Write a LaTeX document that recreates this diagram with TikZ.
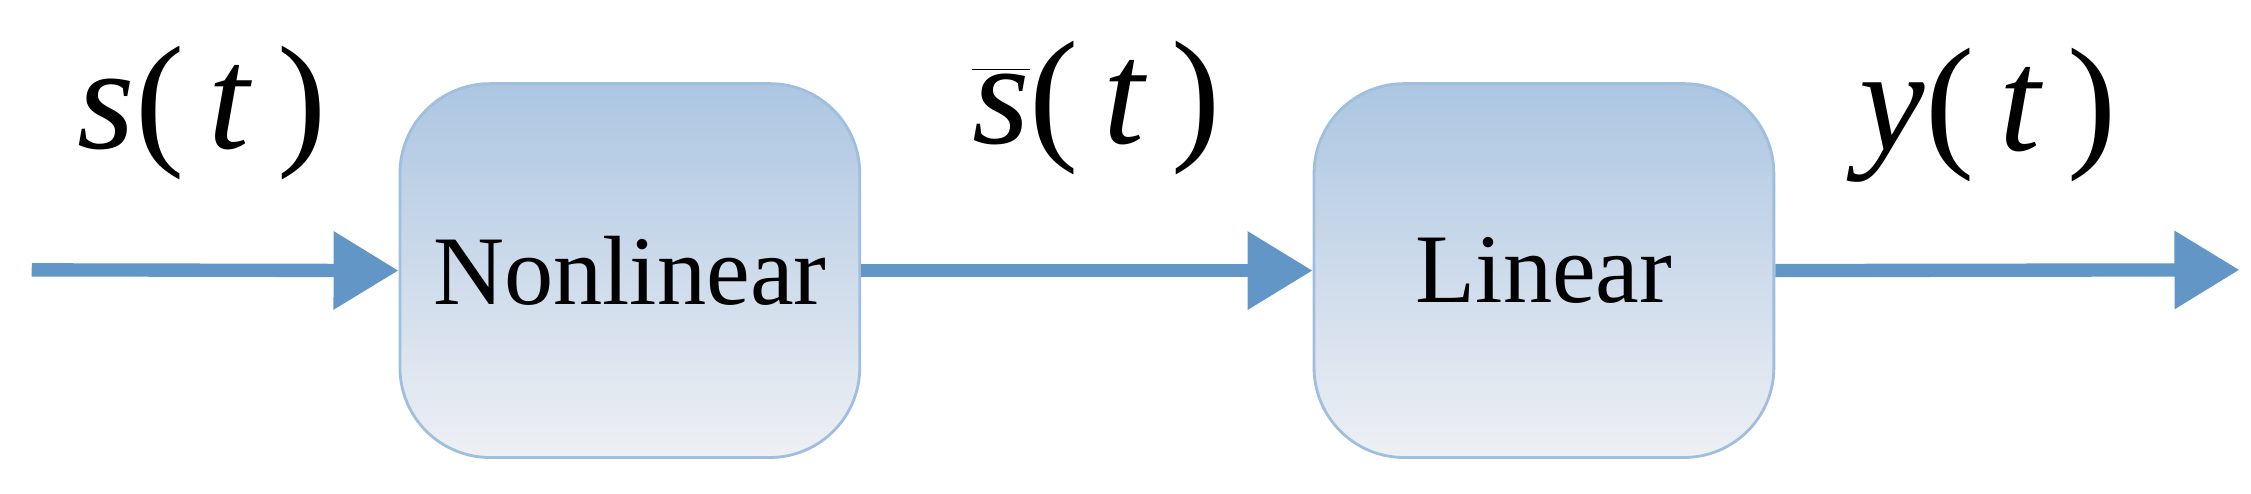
\documentclass[tikz,border=0pt]{standalone}
\usepackage{fontspec}
\setmainfont{Liberation Serif}
\usetikzlibrary{arrows.meta}
\definecolor{arr}{RGB}{98,150,198}
\definecolor{btop}{RGB}{172,198,226}
\definecolor{bbot}{RGB}{238,240,244}
\definecolor{bdr}{RGB}{160,190,222}
\tikzset{
  blk/.style={draw=bdr, line width=0.8pt, rounded corners=0.9cm, top color=btop, bottom color=bbot,
    minimum width=4.6cm, minimum height=3.74cm, inner sep=0pt, font=\fontsize{28}{32}\selectfont},
  flow/.style={draw=arr, line width=3.8pt, -{Triangle[length=0.65cm,width=0.75cm]}},
  lbl/.style={font=\fontsize{42}{46}\selectfont}
}
\begin{document}
\begin{tikzpicture}[x=0.01443cm,y=-0.01443cm]
\useasboundingbox (0,0) rectangle (1560,342);
\node[blk] (n) at (436.5,187.5) {Nonlinear};
\node[blk] (l) at (1070,187.5) {Linear};
\coordinate (in) at (22,187);
\coordinate (out) at (1552,187);
\draw[flow] (in) -- (n.west);
\draw[flow] (n.east) -- (l.west);
\draw[flow] (l.east) -- (out);
\node[lbl] (s) at (140,78) {\textit{s}(\,\textit{t}\,)};
\node[lbl] (sb) at (760,75) {$\overline{\hbox{\textit{s}}}$(\,\textit{t}\,)};
\node[lbl] (y) at (1378,80) {\textit{y}(\,\textit{t}\,)};
\end{tikzpicture}
\end{document}
